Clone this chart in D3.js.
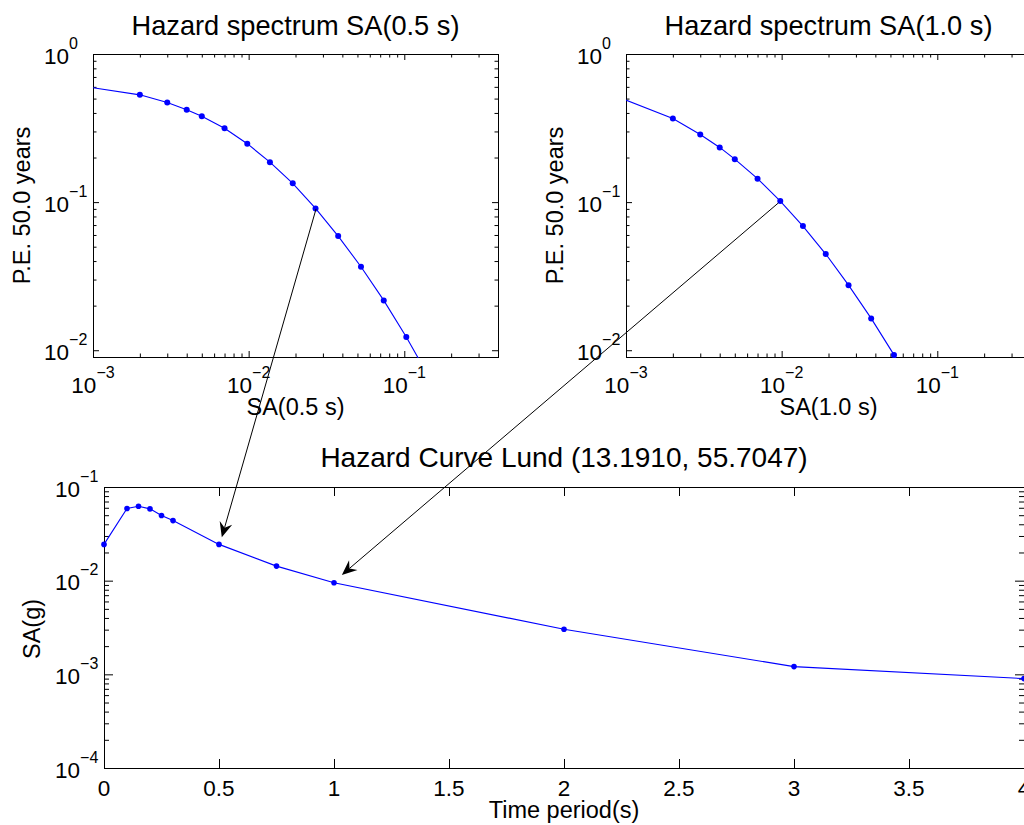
<!DOCTYPE html>
<html><head><meta charset="utf-8">
<script src="https://cdn.jsdelivr.net/npm/d3@7"></script>
<style>
html,body{margin:0;padding:0;background:#fff;}
svg{display:block;font-family:"Liberation Sans",Arial,Helvetica,sans-serif;}
</style></head><body>
<svg id="chart" width="1024" height="825"></svg>
<script>
// ---------- data ----------
const sa05X  = [0.0005, 0.002, 0.003, 0.004, 0.005, 0.007, 0.0098, 0.0137, 0.0192, 0.0269, 0.0376, 0.0527, 0.0738, 0.103, 0.145];
const sa05PE = [0.66, 0.53, 0.47, 0.42, 0.38, 0.315, 0.248, 0.186, 0.134, 0.0906, 0.059, 0.0366, 0.0217, 0.0123, 0.0065];
const sa10X  = [0.0005, 0.002, 0.003, 0.004, 0.005, 0.007, 0.0098, 0.0137, 0.0192, 0.0269, 0.0376, 0.0527, 0.0738];
const sa10PE = [0.65, 0.367, 0.286, 0.234, 0.195, 0.144, 0.1016, 0.0689, 0.0446, 0.0275, 0.0164, 0.0093, 0.005];
const periods   = [0, 0.1, 0.15, 0.2, 0.25, 0.3, 0.5, 0.75, 1, 2, 3, 4];
const hazardSA  = [0.0244, 0.0589, 0.0622, 0.0584, 0.0496, 0.0438, 0.0244, 0.0143, 0.0095, 0.00303, 0.00121, 0.0009];
const spectrumXDomain = [0.001, 0.4];
const peDomain = [0.009, 1];
const spectrumXTicks = [1e-3, 1e-2, 1e-1];
const peTicks = [1e-2, 1e-1, 1];
const saDomain = [1e-4, 1e-1];
const saTicks = [1e-4, 1e-3, 1e-2, 1e-1];
const periodDomain = [0, 4];
const periodTicks = [0, 0.5, 1, 1.5, 2, 2.5, 3, 3.5, 4];
const periodTickLabels = ["0", "0.5", "1", "1.5", "2", "2.5", "3", "3.5", "4"];
const spectrumTitles = ["Hazard spectrum SA(0.5 s)", "Hazard spectrum SA(1.0 s)"];
const spectrumXLabels = ["SA(0.5 s)", "SA(1.0 s)"];
const spectrumYLabel = "P.E. 50.0 years";
const curveTitle = "Hazard Curve Lund (13.1910, 55.7047)";
const curveXLabel = "Time period(s)";
const curveYLabel = "SA(g)";
// arrows: from a point on each spectrum to the hazard curve
const arrowFromX = [0.0269, 0.00946];
const arrowFromY = [0.0906, 0.0995];
const arrowToX = [0.51, 1.032];
const arrowToY = [0.0294, 0.01167];

// ---------- drawing ----------
const svg = d3.select("#chart");
svg.append("rect").attr("width", 1024).attr("height", 825).attr("fill", "#fff");
const BLUE = "#0000ff";
const TICK_FONT = 22.5, EXP_FONT = 16;

function expText(sel, v) {
  const e = Math.round(Math.log10(v));
  sel.append("tspan").text("10");
  sel.append("tspan").attr("dy", -15).attr("font-size", EXP_FONT).text(e < 0 ? "\u2212" + (-e) : String(e));
}

function makeAxes(cfg) {
  const g = svg.append("g").attr("transform", `translate(${cfg.left},${cfg.top})`);
  const w = cfg.width, h = cfg.height;
  const x = cfg.xLog ? d3.scaleLog().domain(cfg.xDomain).range([0, w]) : d3.scaleLinear().domain(cfg.xDomain).range([0, w]);
  const y = d3.scaleLog().domain(cfg.yDomain).range([h, 0]);
  const id = "clip" + cfg.id;
  svg.append("defs").append("clipPath").attr("id", id).append("rect").attr("width", w + 1).attr("height", h + 1);

  const major = cfg.major, minor = cfg.minor;
  const tickG = g.append("g").attr("class", "ticks");
  function ax(gen, vals, len, tx, ty) {
    const a = tickG.append("g").attr("transform", `translate(${tx},${ty})`)
      .call(gen.tickValues(vals).tickSize(-len).tickSizeOuter(0).tickFormat(""));
    a.select(".domain").remove();
    a.selectAll("line").attr("stroke", "#000").attr("stroke-width", 1);
  }
  ax(d3.axisBottom(x), cfg.xMajor, major, 0, h);
  ax(d3.axisTop(x), cfg.xMajor, major, 0, 0);
  if (cfg.xLog) {
    const xm = x.ticks().filter(v => !cfg.xMajor.some(m => Math.abs(m - v) / m < 1e-9));
    ax(d3.axisBottom(x), xm, minor, 0, h);
    ax(d3.axisTop(x), xm, minor, 0, 0);
  }
  ax(d3.axisLeft(y), cfg.yMajor, major, 0, 0);
  ax(d3.axisRight(y), cfg.yMajor, major, w, 0);
  const ym = y.ticks().filter(v => !cfg.yMajor.some(m => Math.abs(m - v) / m < 1e-9));
  ax(d3.axisLeft(y), ym, minor, 0, 0);
  ax(d3.axisRight(y), ym, minor, w, 0);

  g.append("rect").attr("x", 0.5).attr("y", 0.5).attr("width", w).attr("height", h)
    .attr("fill", "none").attr("stroke", "#000").attr("stroke-width", 1);

  const lab = g.append("g").attr("font-size", TICK_FONT).attr("fill", "#000");
  if (cfg.xLog) {
    cfg.xMajor.forEach(v => {
      lab.append("text").attr("x", x(v)).attr("y", h + 35.5).attr("text-anchor", "middle").call(expText, v);
    });
  } else {
    cfg.xMajor.forEach((v, i) => {
      lab.append("text").attr("x", x(v)).attr("y", h + 28).attr("text-anchor", "middle").text(cfg.xTickLabels[i]);
    });
  }
  cfg.yMajor.forEach(v => {
    lab.append("text").attr("x", -49).attr("y", y(v) + 9.5).attr("text-anchor", "start").call(expText, v);
  });

  g.append("text").attr("x", w / 2).attr("y", cfg.titleY).attr("text-anchor", "middle")
    .attr("font-size", cfg.titleSize).text(cfg.title);
  g.append("text").attr("x", w / 2).attr("y", cfg.xLabelY).attr("text-anchor", "middle")
    .attr("font-size", 23.5).text(cfg.xLabel);
  g.append("text").attr("transform", `translate(${cfg.yLabelX},${cfg.yLabelCY}) rotate(-90)`)
    .attr("text-anchor", "middle").attr("font-size", 23.5).text(cfg.yLabel);

  const pts = cfg.xs.map((v, i) => [v, cfg.ys[i]]);
  const line = d3.line().x(d => x(d[0])).y(d => y(d[1]));
  g.append("path").attr("clip-path", `url(#${id})`).attr("d", line(pts))
    .attr("fill", "none").attr("stroke", BLUE).attr("stroke-width", 1.1);
  const inside = pts.filter(d => d[0] >= cfg.xDomain[0] && d[0] <= cfg.xDomain[1] && d[1] >= cfg.yDomain[0] && d[1] <= cfg.yDomain[1]);
  g.selectAll("circle.m").data(inside).join("circle").attr("class", "m")
    .attr("cx", d => x(d[0])).attr("cy", d => y(d[1])).attr("r", cfg.r).attr("fill", BLUE);

  return {x, y, left: cfg.left, top: cfg.top};
}

const p1 = makeAxes({id: 1, left: 93, top: 54, width: 405, height: 303, xLog: true,
  xDomain: spectrumXDomain, yDomain: peDomain, xMajor: spectrumXTicks, yMajor: peTicks,
  major: 6, minor: 3.5, title: spectrumTitles[0], titleY: -19, titleSize: 27.2,
  xLabel: spectrumXLabels[0], xLabelY: 361, yLabel: spectrumYLabel, yLabelX: -63, yLabelCY: 151.5,
  xs: sa05X, ys: sa05PE, r: 3});
const p2 = makeAxes({id: 2, left: 626, top: 54, width: 405, height: 303, xLog: true,
  xDomain: spectrumXDomain, yDomain: peDomain, xMajor: spectrumXTicks, yMajor: peTicks,
  major: 6, minor: 3.5, title: spectrumTitles[1], titleY: -19, titleSize: 27.2,
  xLabel: spectrumXLabels[1], xLabelY: 361, yLabel: spectrumYLabel, yLabelX: -63, yLabelCY: 151.5,
  xs: sa10X, ys: sa10PE, r: 3});
const p3 = makeAxes({id: 3, left: 104, top: 487, width: 920, height: 281, xLog: false,
  xDomain: periodDomain, yDomain: saDomain, xMajor: periodTicks, xTickLabels: periodTickLabels, yMajor: saTicks,
  major: 9, minor: 5, title: curveTitle, titleY: -20.3, titleSize: 28,
  xLabel: curveXLabel, xLabelY: 331, yLabel: curveYLabel, yLabelX: -64, yLabelCY: 142,
  xs: periods, ys: hazardSA, r: 2.8});

const arrowG = svg.append("g");
const panels = [p1, p2];
arrowFromX.forEach((fx, i) => {
  const p = panels[i];
  const sx = p.left + p.x(fx) + 0.5, sy = p.top + p.y(arrowFromY[i]) + 0.5;
  const tx = p3.left + p3.x(arrowToX[i]) + 0.5, ty = p3.top + p3.y(arrowToY[i]) + 0.5;
  const dx = tx - sx, dy = ty - sy, len = Math.hypot(dx, dy);
  const ux = dx / len, uy = dy / len, nx = -uy, ny = ux;
  const L = 15, W = 13, N = 10;
  const notch = [tx - N * ux, ty - N * uy];
  arrowG.append("line").attr("x1", sx).attr("y1", sy).attr("x2", notch[0]).attr("y2", notch[1])
    .attr("stroke", "#000").attr("stroke-width", 1);
  const head = [[tx, ty], [tx - L * ux + W / 2 * nx, ty - L * uy + W / 2 * ny], notch,
                [tx - L * ux - W / 2 * nx, ty - L * uy - W / 2 * ny]];
  arrowG.append("path").attr("d", "M" + head.map(d => d.join(",")).join("L") + "Z").attr("fill", "#000");
});
</script>
</body></html>
